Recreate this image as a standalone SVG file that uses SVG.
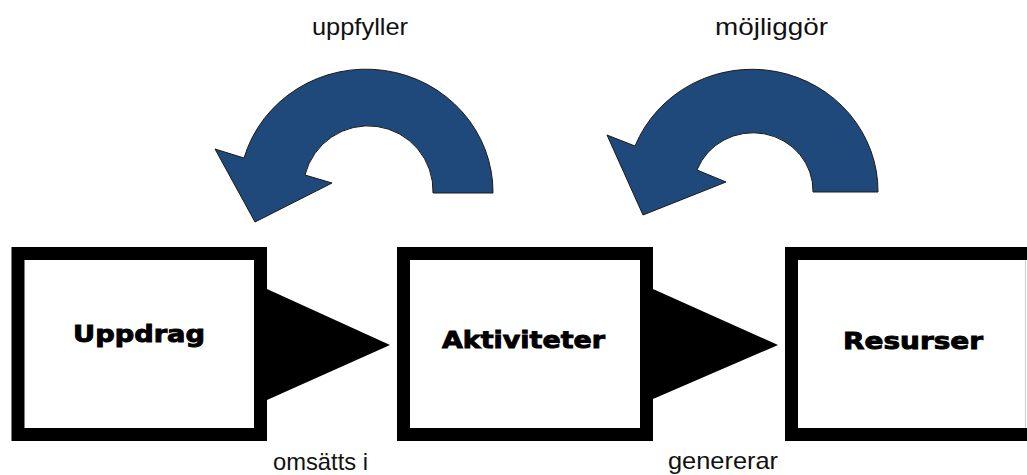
<svg xmlns="http://www.w3.org/2000/svg" width="1027" height="475" viewBox="0 0 1027 475">
  <style>
    .box { fill: #ffffff; stroke: #000000; stroke-width: 13; }
    .node-label { font-family: "DejaVu Sans", "Liberation Sans", sans-serif; font-weight: 700; font-size: 23px; fill: #000000; stroke: #000000; stroke-width: 0.9; }
    .edge-label { font-family: "Liberation Sans", Arial, sans-serif; font-size: 24px; fill: #111111; }
    .flow { fill: #000000; stroke: none; }
    .curl { fill: #1f487b; stroke: #1a1a1a; stroke-width: 1; stroke-linejoin: miter; }
  </style>
  <rect width="1027" height="475" fill="#ffffff"/>

  <g id="connectors">
    <polygon class="flow" points="267,289 267,400 390,345"/>
    <polygon class="flow" points="653,289 653,399 778,345"/>
    <path class="curl" d="M 493 193 A 127 123 0 0 0 244 158 L 215 149 L 255 222 L 332 183 L 305 175 A 65 65 0 0 1 433 193 Z"/>
    <path class="curl" d="M 878 192 A 126 122 0 0 0 635 146 L 607 135 L 643 215 L 726 182 L 697 170 A 60 58 0 0 1 813 192 Z"/>
  </g>

  <g id="node-uppdrag">
    <rect class="box" x="18" y="253.5" width="242.5" height="181"/>
    <text class="node-label" x="73" y="342" textLength="132" lengthAdjust="spacingAndGlyphs">Uppdrag</text>
  </g>

  <g id="node-aktiviteter">
    <rect class="box" x="403.5" y="253.5" width="243" height="181"/>
    <text class="node-label" x="442" y="348" textLength="163" lengthAdjust="spacingAndGlyphs">Aktiviteter</text>
  </g>

  <g id="node-resurser">
    <rect class="box" x="791.5" y="253.5" width="260" height="181"/>
    <line x1="1025.5" y1="260" x2="1025.5" y2="428" stroke="#cfcfcf" stroke-width="1"/>
    <text class="node-label" x="843" y="349" textLength="140" lengthAdjust="spacingAndGlyphs">Resurser</text>
  </g>

  <g id="labels">
    <text class="edge-label" x="312" y="35" textLength="96" lengthAdjust="spacingAndGlyphs">uppfyller</text>
    <text class="edge-label" x="715" y="35" textLength="113" lengthAdjust="spacingAndGlyphs">möjliggör</text>
    <text class="edge-label" x="273" y="470" font-size="23" textLength="95" lengthAdjust="spacingAndGlyphs">omsätts i</text>
    <text class="edge-label" x="668" y="469" font-size="23" textLength="110" lengthAdjust="spacingAndGlyphs">genererar</text>
  </g>
</svg>
